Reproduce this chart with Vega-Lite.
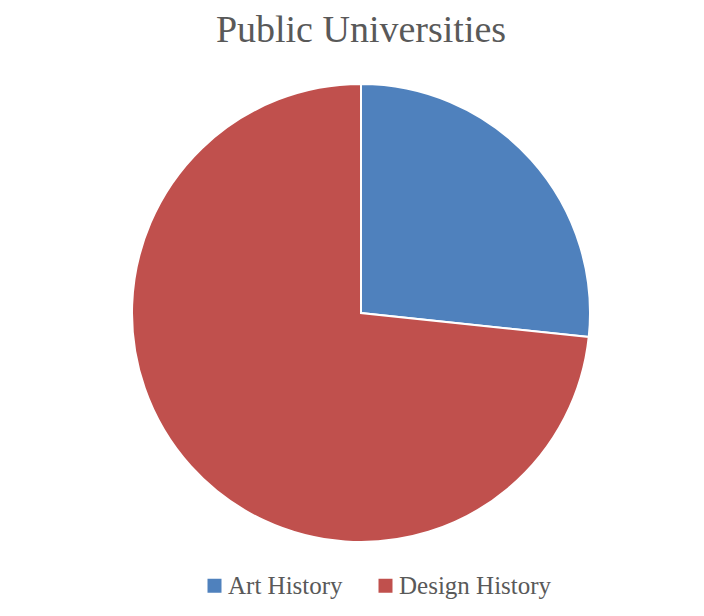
{
  "$schema": "https://vega.github.io/schema/vega-lite/v6.json",
  "autosize": "pad",
  "padding": {"left": 18, "top": 12, "right": 0, "bottom": 0},
  "width": 686,
  "height": 446,
  "background": "white",
  "view": {"stroke": null},
  "title": {
    "text": "Public Universities",
    "font": "Liberation Serif",
    "fontSize": 38,
    "fontWeight": "normal",
    "color": "#595959",
    "anchor": "middle",
    "frame": "group",
    "baseline": "alphabetic",
    "offset": 0
  },
  "data": {
    "values": [
      {"subject": "Art History", "value": 4},
      {"subject": "Design History", "value": 11}
    ]
  },
  "mark": {"type": "arc", "radius": 229, "stroke": "white", "strokeWidth": 2},
  "encoding": {
    "theta": {"field": "value", "type": "quantitative", "stack": true},
    "order": {"field": "subject", "sort": "ascending"},
    "color": {
      "field": "subject",
      "type": "nominal",
      "scale": {"domain": ["Art History", "Design History"], "range": ["#4F81BD", "#C0504D"]},
      "legend": {
        "title": null,
        "orient": "none",
        "direction": "horizontal",
        "legendX": 184,
        "legendY": 483,
        "symbolType": "square",
        "symbolSize": 196,
        "symbolStrokeWidth": 0,
        "labelFont": "Liberation Serif",
        "labelFontSize": 25,
        "labelColor": "#595959",
        "labelOffset": 1,
        "columnPadding": 30
      }
    }
  }
}
